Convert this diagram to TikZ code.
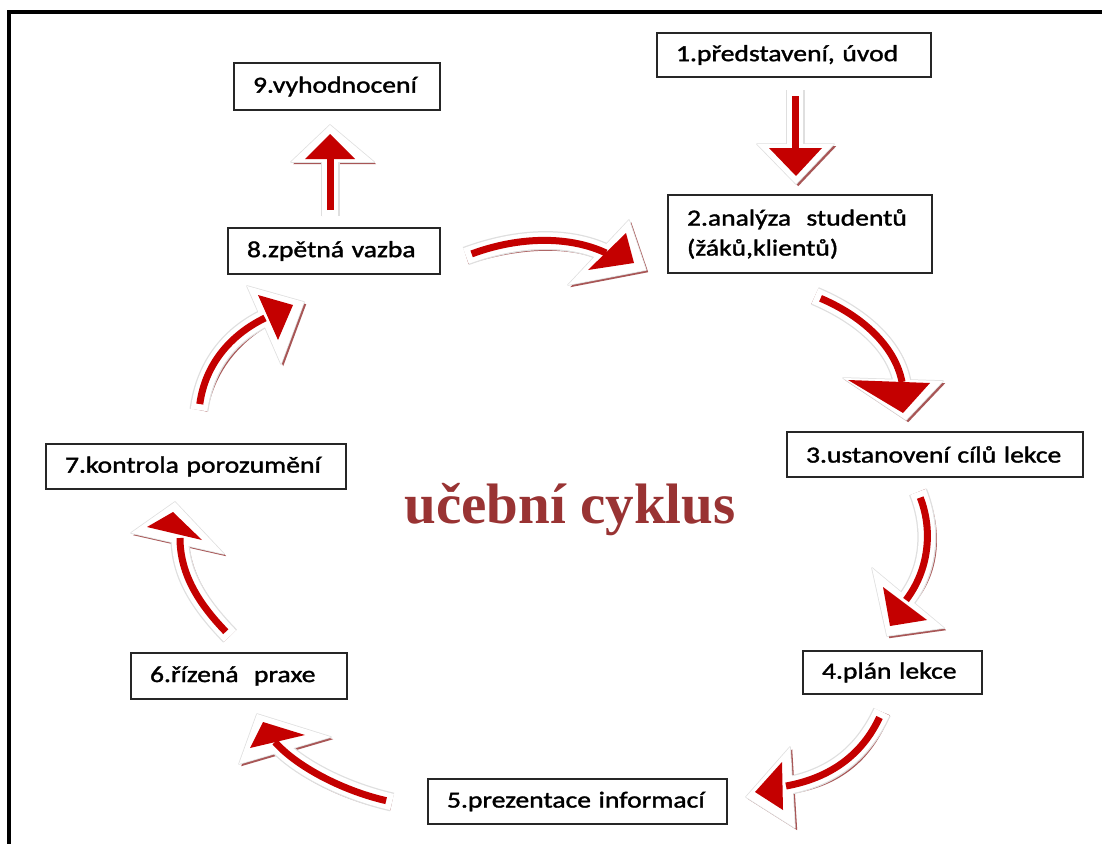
\documentclass[tikz,border=0pt]{standalone}
\usepackage{fontspec}
\setmainfont{Liberation Serif}
\newfontfamily\boxfont[FakeStretch=1.2,FakeBold=1.5]{Carlito}
\usetikzlibrary{calc}
\definecolor{arrred}{RGB}{196,0,0}
\definecolor{shadowred}{RGB}{140,30,30}
\definecolor{titlered}{RGB}{153,51,51}
\tikzset{
  stage/.style={draw=black!85, line width=2pt, fill=white,
    font=\boxfont\fontsize{23}{30}\selectfont, align=left,
    inner xsep=19pt, inner ysep=0pt, anchor=center},
  frame/.style={line width=3.5pt, black},
  title/.style={font=\bfseries\fontsize{57}{60}\selectfont, text=titlered, anchor=base}
}
\newcommand\cyclearrow[3]{%
  \begin{scope}[shift={(2.2,2.2)}]
    \draw[shadowred, line width=17pt, opacity=.75] #1;
    \fill[shadowred, opacity=.75] #3 -- cycle;
  \end{scope}
  \draw[gray!25, line width=19pt] #1;
  \filldraw[gray!25, line width=1.5pt, line join=round] #3 -- cycle;
  \draw[white, line width=16.5pt] #1;
  \fill[white] #3 -- cycle;
  \draw[arrred, line width=7pt, shorten <=6pt] #1;
  \fill[arrred] #2 -- cycle;
}
\begin{document}
\begin{tikzpicture}[x=1pt, y=-1pt]
  \useasboundingbox (0,0) rectangle (1102,843);
  \fill[white] (0,0) rectangle (1102,843);
  \draw[frame] (9,845) -- (9,12) -- (1104,12);

  % stages
  \node[stage, minimum width=274pt, minimum height=44pt, text width=236pt] (s1) at (794,55) {1.představení, úvod};
  \node[stage, minimum width=264pt, minimum height=78pt, text width=226pt] (s2) at (800,234) {2.analýza\ \ studentů\\(žáků,klientů)};
  \node[stage, minimum width=296pt, minimum height=45pt, text width=258pt] (s3) at (935,454.5) {3.ustanovení cílů lekce};
  \node[stage, minimum width=179pt, minimum height=43pt, text width=141pt] (s4) at (892.5,672.5) {4.plán lekce};
  \node[stage, minimum width=299pt, minimum height=45pt, text width=261pt] (s5) at (577.5,801.5) {5.prezentace informací};
  \node[stage, minimum width=216pt, minimum height=46pt, text width=178pt] (s6) at (239,676) {6.řízená\ \ praxe};
  \node[stage, minimum width=300pt, minimum height=45pt, text width=262pt] (s7) at (196,466.5) {7.kontrola porozumění};
  \node[stage, minimum width=212pt, minimum height=46pt, text width=174pt] (s8) at (334,251) {8.zpětná vazba};
  \node[stage, minimum width=206pt, minimum height=47pt, text width=168pt] (s9) at (337,86.5) {9.vyhodnocení};

  \node[title] (t) at (570,523) {učební cyklus};

  % arrow end points
  \coordinate (a1s) at (795,90);   \coordinate (a1e) at (795,149);
  \coordinate (a2s) at (466,256);  \coordinate (a2e) at (606,253);
  \coordinate (a3s) at (815,296);  \coordinate (a3e) at (902,382);
  \coordinate (a4s) at (918,492);  \coordinate (a4e) at (906,600);
  \coordinate (a5s) at (882,712);  \coordinate (a5e) at (786,786);
  \coordinate (a6s) at (392,802);  \coordinate (a6e) at (275,742);
  \coordinate (a7s) at (230,636);  \coordinate (a7e) at (180,538);
  \coordinate (a8s) at (199,410);  \coordinate (a8e) at (265,318);
  \coordinate (a9s) at (330,216);  \coordinate (a9e) at (330,158);

  % 1 -> 2
  \cyclearrow{(a1s) -- (a1e)}
    {(769,148) -- (822,148) -- (796,176)}
    {(757,144) -- (834,144) -- (796,184)}
  % 8 -> 2
  \cyclearrow{(a2s) .. controls (520,236) and (570,236) .. (a2e)}
    {(626,233) -- (634,263) -- (588,270)}
    {(629,220) -- (646,270) -- (568,285)}
  % 2 -> 3
  \cyclearrow{(a3s) .. controls (860,315) and (895,345) .. (a3e)}
    {(848,380) -- (930,383) -- (903,413)}
    {(843,378) -- (943,381) -- (906,420)}
  % 3 -> 4
  \cyclearrow{(a4s) .. controls (933,530) and (929,570) .. (a4e)}
    {(883,587) -- (927,620) -- (890,626)}
    {(872,568) -- (944,628) -- (887,636)}
  % 4 -> 5
  \cyclearrow{(a5s) .. controls (862,755) and (830,778) .. (a5e)}
    {(782,762) -- (783,810) -- (755,792)}
    {(790,747) -- (795,828) -- (746,797)}
  % 5 -> 6
  \cyclearrow{(a6s) .. controls (340,790) and (295,765) .. (a6e)}
    {(263,722) -- (305,735) -- (250,748)}
    {(257,714) -- (331,737) -- (239,764)}
  % 6 -> 7
  \cyclearrow{(a7s) .. controls (200,605) and (180,575) .. (a7e)}
    {(147,527) -- (173,512) -- (202,540)}
    {(131,533) -- (175,502) -- (224,554)}
  % 7 -> 8
  \cyclearrow{(a8s) .. controls (205,365) and (230,335) .. (a8e)}
    {(258,295) -- (293,305) -- (278,340)}
    {(247,286) -- (304,302) -- (281,364)}
  % 8 -> 9
  \cyclearrow{(a9s) -- (a9e)}
    {(305,159) -- (355,159) -- (330,134)}
    {(291,162) -- (374,162) -- (330,125)}
\end{tikzpicture}
\end{document}
